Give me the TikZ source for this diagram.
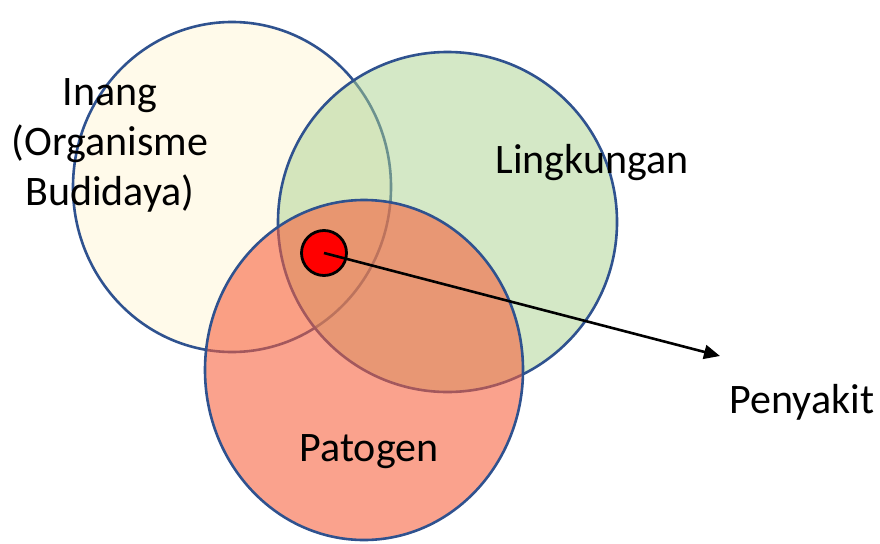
\documentclass[tikz,border=0pt]{standalone}
\usepackage{fontspec}
\setmainfont{Carlito}
\usetikzlibrary{shapes.geometric,arrows.meta}
\definecolor{edgeblue}{HTML}{2F528F}
\definecolor{inangc}{HTML}{FFF2CC}
\definecolor{lingc}{HTML}{A9D18E}
\definecolor{patc}{HTML}{F75E3A}
\tikzset{
  venn/.style={ellipse, draw=edgeblue, line width=2.6pt, inner sep=0pt},
  lbl/.style={font=\fontsize{42}{50}\selectfont, align=center, text=black, inner sep=0pt},
}
\begin{document}
\begin{tikzpicture}[x=1pt,y=-1pt]
\useasboundingbox (0,0) rectangle (880,543);
\node[venn, fill=inangc, fill opacity=0.42, minimum width=318pt, minimum height=330pt] (inang) at (232,187) {};
\node[venn, fill=lingc, fill opacity=0.5, minimum width=339pt, minimum height=340pt] (ling) at (447.5,222) {};
\node[venn, fill=patc, fill opacity=0.58, minimum width=318pt, minimum height=340pt] (pat) at (364,370) {};
\node[circle, draw=black, line width=2.8pt, fill=red, minimum size=45pt, inner sep=0pt] (dot) at (324,253) {};
\coordinate (tip) at (720,356);
\draw[line width=2.6pt, -{Triangle[length=16pt,width=14pt]}] (dot.center) -- (tip);
\node[lbl] (tinang) at (110,145) {Inang\\(Organisme\\Budidaya)};
\node[lbl] (tling) at (592,163) {Lingkungan};
\node[lbl] (tpat) at (369,452) {Patogen};
\node[lbl] (tpen) at (802,402) {Penyakit};
\end{tikzpicture}
\end{document}
